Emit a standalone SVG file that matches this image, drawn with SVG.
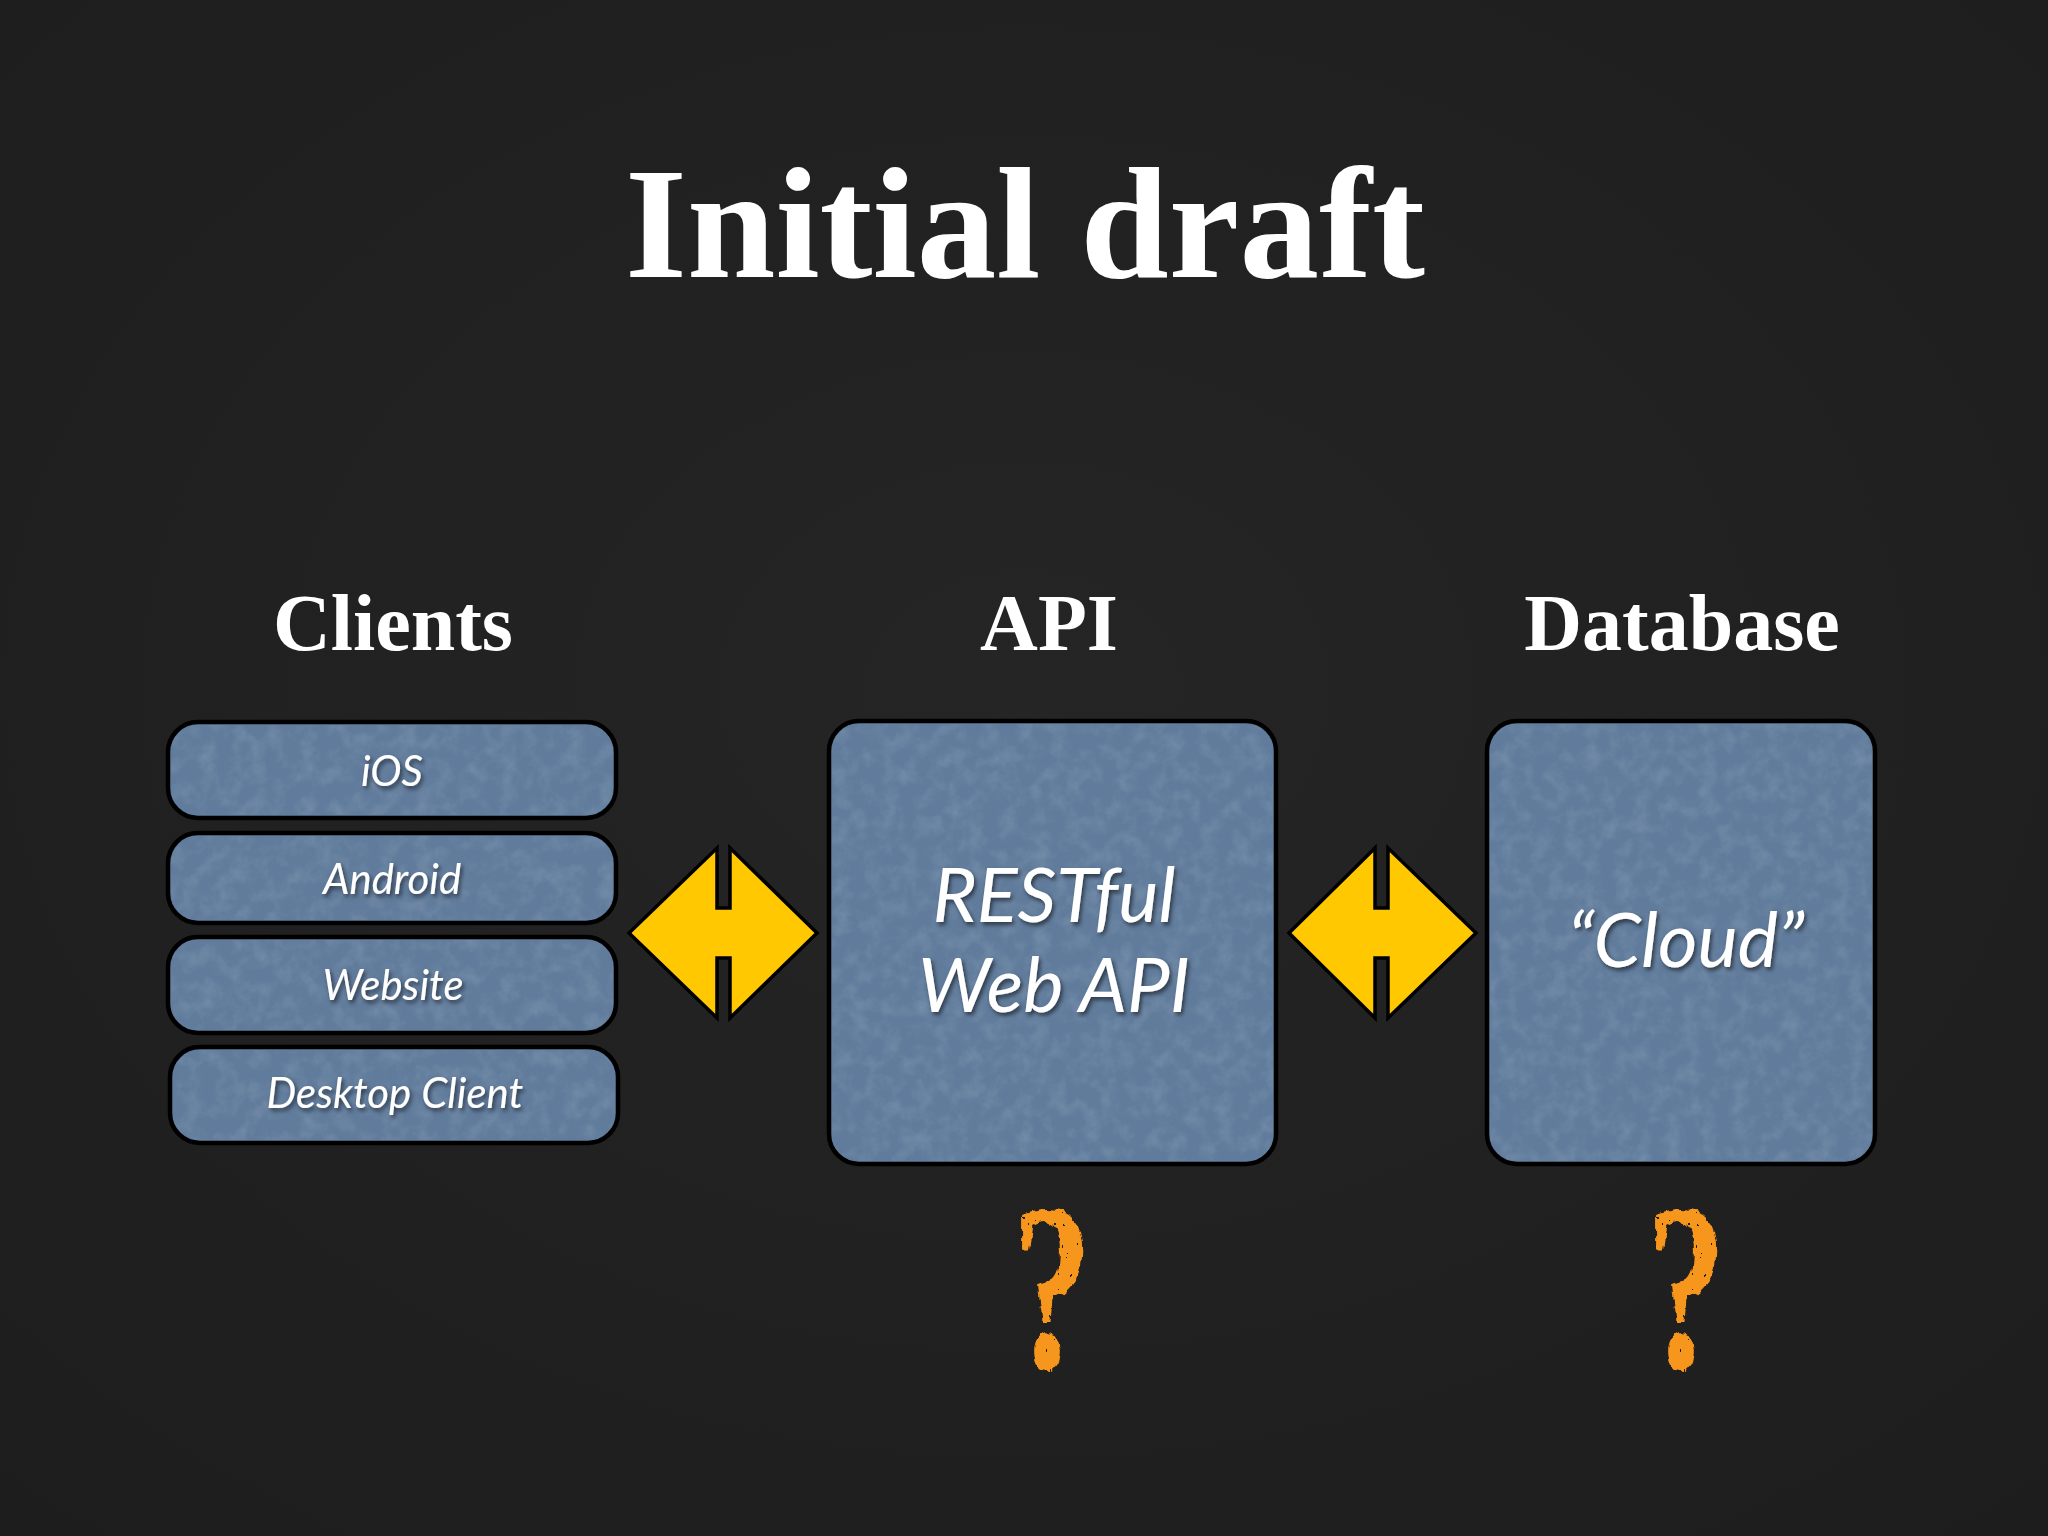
<svg xmlns="http://www.w3.org/2000/svg" width="2048" height="1536" viewBox="0 0 2048 1536">
<style>
.title{font-family:"Liberation Serif",serif;font-weight:bold;fill:#fff;}
.head{font-family:"Liberation Serif",serif;font-weight:bold;fill:#fff;font-size:80px;text-anchor:middle;}
.box{fill:#607b9b;stroke:#000;stroke-width:4.5;}
.grain{fill:#000;filter:url(#tex);}
.lbl{font-family:Lato,"Open Sans",sans-serif;font-style:italic;fill:#fff;text-anchor:middle;}
.arrow{fill:#ffc800;stroke:#000;stroke-width:3.5;stroke-linejoin:miter;}
.q{font-family:"Liberation Serif",serif;font-weight:bold;fill:#f7961a;font-size:240px;text-anchor:middle;}
</style>
<defs>
<radialGradient id="bg" cx="50%" cy="45%" r="75%">
<stop offset="0" stop-color="#252525"/>
<stop offset="1" stop-color="#1d1d1d"/>
</radialGradient>
<filter id="tex" x="0" y="0" width="100%" height="100%">
<feTurbulence type="fractalNoise" baseFrequency="0.06" numOctaves="4" seed="4" result="n"/>
<feColorMatrix in="n" type="matrix" values="0 0 0 0 0.32  0 0 0 0 0.42  0 0 0 0 0.55  0.6 0 0 0 -0.24" result="c"/>
<feComposite in="c" in2="SourceAlpha" operator="in"/>
</filter>
<filter id="sh" x="-10%" y="-20%" width="120%" height="140%">
<feDropShadow dx="2" dy="3" stdDeviation="2" flood-color="#000" flood-opacity="0.55"/>
</filter>
<filter id="grunge" x="-20%" y="-10%" width="140%" height="120%">
<feTurbulence type="fractalNoise" baseFrequency="0.08" numOctaves="2" seed="7" result="t"/>
<feDisplacementMap in="SourceGraphic" in2="t" scale="10" xChannelSelector="R" yChannelSelector="G" result="d"/>
<feTurbulence type="fractalNoise" baseFrequency="0.15" numOctaves="2" seed="2" result="t2"/>
<feColorMatrix in="t2" type="matrix" values="0 0 0 0 0  0 0 0 0 0  0 0 0 0 0  1 0 0 0 0" result="a"/>
<feComponentTransfer in="a" result="m"><feFuncA type="discrete" tableValues="0 0 1 1 1 1 1 1"/></feComponentTransfer>
<feComposite in="d" in2="m" operator="in"/>
</filter>
</defs>
<rect width="2048" height="1536" fill="url(#bg)"/>
<g id="title">
<text class="title" x="1025" y="277" font-size="158" text-anchor="middle" textLength="800" lengthAdjust="spacingAndGlyphs">Initial draft</text>
</g>
<g id="headers">
<text class="head" x="393" y="650">Clients</text>
<text class="head" x="1049" y="650">API</text>
<text class="head" x="1682" y="650">Database</text>
</g>
<g id="node-ios">
<rect class="box" x="168" y="722" width="448" height="96" rx="30"/>
<rect class="grain" x="171" y="725" width="442" height="90" rx="27"/>
<text class="lbl" x="392" y="786" font-size="42" filter="url(#sh)">iOS</text>
</g>
<g id="node-android">
<rect class="box" x="168" y="833" width="448" height="90" rx="30"/>
<rect class="grain" x="171" y="836" width="442" height="84" rx="27"/>
<text class="lbl" x="392" y="894" font-size="42" filter="url(#sh)">Android</text>
</g>
<g id="node-website">
<rect class="box" x="168" y="937" width="448" height="96" rx="30"/>
<rect class="grain" x="171" y="940" width="442" height="90" rx="27"/>
<text class="lbl" x="393" y="1000" font-size="42" filter="url(#sh)">Website</text>
</g>
<g id="node-desktop">
<rect class="box" x="170" y="1047" width="448" height="96" rx="30"/>
<rect class="grain" x="173" y="1050" width="442" height="90" rx="27"/>
<text class="lbl" x="395" y="1108" font-size="42" filter="url(#sh)">Desktop Client</text>
</g>
<g id="node-api">
<rect class="box" x="829" y="721" width="447" height="443" rx="30"/>
<rect class="grain" x="832" y="724" width="441" height="437" rx="27"/>
<text class="lbl" x="1054" y="922" font-size="76" filter="url(#sh)">RESTful</text>
<text class="lbl" x="1054" y="1012" font-size="76" filter="url(#sh)">Web API</text>
</g>
<g id="node-cloud">
<rect class="box" x="1487" y="721" width="388" height="443" rx="30"/>
<rect class="grain" x="1490" y="724" width="382" height="437" rx="27"/>
<text class="lbl" x="1686" y="967" font-size="76" filter="url(#sh)">“Cloud”</text>
</g>
<g id="connectors">
<polygon class="arrow" points="629,933 717,848 717,908 730,908 730,848 817,933 730,1018 730,958 717,958 717,1018"/>
<polygon class="arrow" points="1289,933 1375,848 1375,908 1388,908 1388,848 1476,933 1388,1018 1388,958 1375,958 1375,1018"/>
</g>
<g id="marks">
<text class="q" x="0" y="0" transform="translate(1052,1368) scale(0.66,1)" filter="url(#grunge)">?</text>
<text class="q" x="0" y="0" transform="translate(1686,1368) scale(0.66,1)" filter="url(#grunge)">?</text>
</g>
</svg>
